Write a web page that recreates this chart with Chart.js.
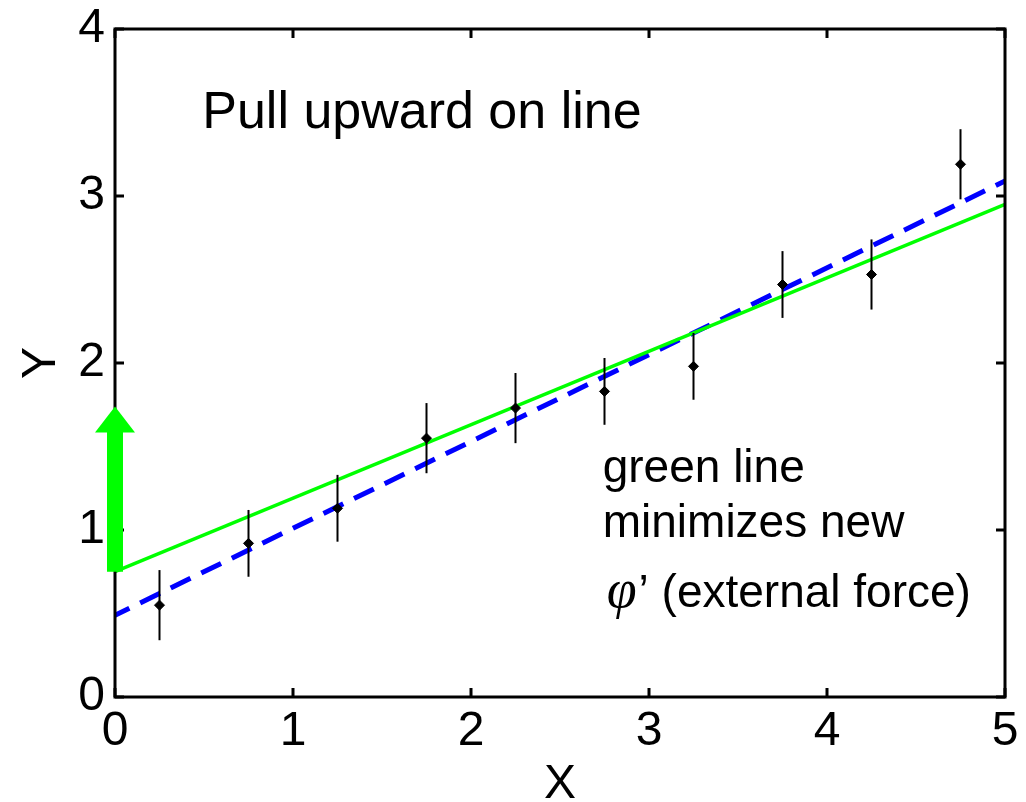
<!DOCTYPE html>
<html>
<head>
<meta charset="utf-8">
<script src="https://cdn.jsdelivr.net/npm/chart.js@4.4.1/dist/chart.umd.min.js"></script>
<style>
  html, body { margin: 0; padding: 0; background: #fff; }
  #grafico-container { width: 1026px; height: 802px; }
</style>
</head>
<body>
<div id="grafico-container"><canvas id="grafico"></canvas></div>
<script>
// medições (x, y) com barra de erro
const xPontos = [0.25, 0.75, 1.25, 1.75, 2.25, 2.75, 3.25, 3.75, 4.25, 4.75];
const yPontos = [0.55, 0.92, 1.13, 1.55, 1.73, 1.83, 1.98, 2.47, 2.53, 3.19];
const erros = [0.21, 0.2, 0.2, 0.21, 0.21, 0.2, 0.2, 0.2, 0.21, 0.21];

// retas ajustadas: extremos em x = 0 e x = 5
const retaX = [0, 5];
const retaVerdeY = [0.75, 2.95];
const retaAzulY = [0.49, 3.09];

// seta (força externa) em x = 0
const setaX = 0;
const setaBase = 0.75;
const setaPonta = 1.74;

const xTicks = [0, 1, 2, 3, 4, 5];
const yTicks = [0, 1, 2, 3, 4];

const FONTE = "'Liberation Sans', Arial, sans-serif";
const FONTE_SERIF = "'Liberation Serif', 'Times New Roman', serif";

Chart.defaults.font.family = FONTE;
Chart.defaults.color = '#000';

const pontos = xPontos.map((x, i) => ({ x, y: yPontos[i] }));
const retaVerde = retaX.map((x, i) => ({ x, y: retaVerdeY[i] }));
const retaAzul = retaX.map((x, i) => ({ x, y: retaAzulY[i] }));

// caixa dos eixos, ticks internos, barras de erro, seta e textos
const extras = {
  id: 'extras',
  afterDatasetsDraw(chart) {
    const { ctx, chartArea: a, scales: { x, y } } = chart;
    ctx.save();

    // barras de erro
    ctx.strokeStyle = '#000';
    ctx.lineWidth = 2;
    xPontos.forEach((xv, i) => {
      const px = x.getPixelForValue(xv);
      ctx.beginPath();
      ctx.moveTo(px, y.getPixelForValue(yPontos[i] - erros[i]));
      ctx.lineTo(px, y.getPixelForValue(yPontos[i] + erros[i]));
      ctx.stroke();
    });

    // caixa
    ctx.lineWidth = 3;
    ctx.strokeRect(a.left, a.top, a.right - a.left, a.bottom - a.top);

    // ticks para dentro, nos quatro lados
    const tam = 9;
    ctx.beginPath();
    xTicks.forEach(v => {
      const px = x.getPixelForValue(v);
      ctx.moveTo(px, a.bottom); ctx.lineTo(px, a.bottom - tam);
      ctx.moveTo(px, a.top); ctx.lineTo(px, a.top + tam);
    });
    yTicks.forEach(v => {
      const py = y.getPixelForValue(v);
      ctx.moveTo(a.left, py); ctx.lineTo(a.left + tam, py);
      ctx.moveTo(a.right, py); ctx.lineTo(a.right - tam, py);
    });
    ctx.stroke();

    // seta verde
    const sx = x.getPixelForValue(setaX);
    const sBase = y.getPixelForValue(setaBase);
    const sPonta = y.getPixelForValue(setaPonta);
    const cab = 26;
    ctx.fillStyle = '#00ff00';
    ctx.fillRect(sx - 8, sPonta + cab - 1, 16, sBase - sPonta - cab + 1);
    ctx.beginPath();
    ctx.moveTo(sx, sPonta);
    ctx.lineTo(sx + 20, sPonta + cab);
    ctx.lineTo(sx - 20, sPonta + cab);
    ctx.closePath();
    ctx.fill();

    // textos
    ctx.fillStyle = '#000';
    ctx.textBaseline = 'alphabetic';
    ctx.textAlign = 'left';
    ctx.font = `52px ${FONTE}`;
    ctx.fillText('Pull upward on line', x.getPixelForValue(0.49), y.getPixelForValue(3.41));

    const tx = x.getPixelForValue(2.74);
    ctx.font = `46px ${FONTE}`;
    ctx.fillText('green line', tx, y.getPixelForValue(1.287));
    ctx.fillText('minimizes new', tx, y.getPixelForValue(0.958));
    const by = y.getPixelForValue(0.539);
    ctx.font = `italic 54px ${FONTE_SERIF}`;
    ctx.fillText('\u03C6', tx + 4, by);
    const w = ctx.measureText('\u03C6').width;
    ctx.font = `46px ${FONTE}`;
    ctx.fillText('\u2019 (external force)', tx + 6 + w, by);

    ctx.restore();
  }
};

new Chart(document.getElementById('grafico'), {
  type: 'scatter',
  data: {
    datasets: [
      {
        label: 'dados',
        data: pontos,
        pointStyle: 'rectRot',
        pointRadius: 5,
        backgroundColor: '#000',
        borderColor: '#000',
        borderWidth: 1,
        showLine: false
      },
      {
        label: 'reta verde',
        data: retaVerde,
        showLine: true,
        borderColor: '#00ff00',
        borderWidth: 3.5,
        pointRadius: 0
      },
      {
        label: 'reta azul',
        data: retaAzul,
        showLine: true,
        borderColor: '#0000ff',
        borderWidth: 5,
        borderDash: [22, 12],
        borderDashOffset: 6,
        pointRadius: 0
      }
    ]
  },
  options: {
    responsive: true,
    maintainAspectRatio: false,
    animation: false,
    layout: { padding: { top: 29, right: 21, left: 0, bottom: 0 } },
    plugins: {
      legend: { display: false },
      tooltip: { enabled: false }
    },
    scales: {
      x: {
        type: 'linear',
        min: 0,
        max: 5,
        afterFit: s => { s.height = 105; s.paddingLeft = 0; s.paddingRight = 0; },
        afterBuildTicks: s => { s.ticks = xTicks.map(v => ({ value: v })); },
        ticks: { color: '#000', font: { size: 48 }, padding: 6, maxRotation: 0, autoSkip: false },
        grid: { display: false, drawTicks: false },
        border: { display: false },
        title: { display: true, text: 'X', color: '#000', font: { size: 48, lineHeight: 0.7 }, padding: 0 }
      },
      y: {
        type: 'linear',
        min: 0,
        max: 4,
        afterFit: s => { s.width = 115; s.paddingTop = 0; s.paddingBottom = 0; },
        afterBuildTicks: s => { s.ticks = yTicks.map(v => ({ value: v })); },
        ticks: { color: '#000', font: { size: 48 }, padding: 10, autoSkip: false },
        grid: { display: false, drawTicks: false },
        border: { display: false },
        title: { display: true, text: 'Y', color: '#000', font: { size: 48 }, padding: { top: 13, bottom: 0 } }
      }
    }
  },
  plugins: [extras]
});
</script>
</body>
</html>
